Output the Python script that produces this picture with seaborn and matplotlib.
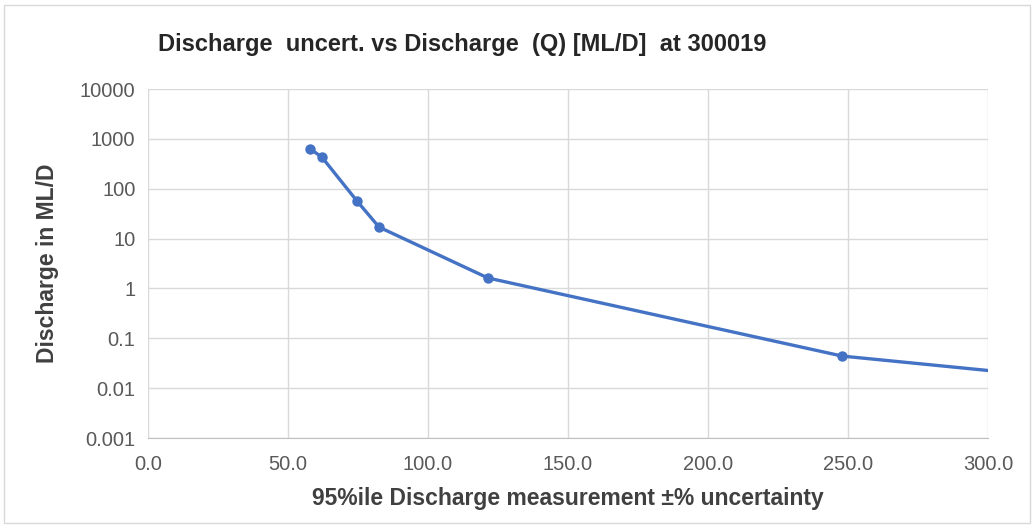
import numpy as np
import pandas as pd
import matplotlib
matplotlib.use('Agg')
import matplotlib.pyplot as plt
import matplotlib.ticker as mticker
import seaborn as sns

# valores
incerteza = [57.9, 62.1, 74.6, 82.5, 121.4, 247.9, 320.0]
vazao = [630.0, 430.0, 57.0, 17.0, 1.62, 0.044, 0.0175]

df = pd.DataFrame({'incerteza': incerteza, 'vazao': vazao})

sns.set_style('white')
plt.rcParams['font.family'] = ['Liberation Sans', 'DejaVu Sans']

fig = plt.figure(figsize=(10.34, 5.28), dpi=100)
ax = fig.add_axes([148 / 1034, 1 - 438 / 528, 840 / 1034, 349 / 528])

sns.lineplot(data=df, x='incerteza', y='vazao', ax=ax, color='#4472C4',
             linewidth=2.4, marker='o', markersize=7.5, markeredgewidth=0,
             clip_on=True, zorder=3)

ax.set_yscale('log')
ax.set_xlim(0, 300)
ax.set_ylim(0.001, 10000)
ax.set_xticks(np.arange(0, 301, 50))
ax.xaxis.set_major_formatter(mticker.FormatStrFormatter('%.1f'))
yt = [0.001, 0.01, 0.1, 1, 10, 100, 1000, 10000]
ax.set_yticks(yt)
ax.set_yticklabels(['0.001', '0.01', '0.1', '1', '10', '100', '1000', '10000'])
ax.yaxis.set_minor_locator(mticker.NullLocator())

ax.grid(True, color='#d9d9d9', linewidth=1)
for s in ['top', 'right', 'left']:
    ax.spines[s].set_visible(False)
ax.spines['bottom'].set_color('#bfbfbf')
ax.tick_params(axis='both', length=0, labelsize=14.5, colors='#595959')
ax.tick_params(axis='x', pad=12)
ax.tick_params(axis='y', pad=9)

ax.set_xlabel('95%ile Discharge measurement ±% uncertainty', fontsize=16.5,
              fontweight='bold', color='#404040')
ax.set_ylabel('Discharge in ML/D', fontsize=16.5, fontweight='bold',
              color='#404040')
ax.xaxis.set_label_coords(0.5, -0.14)
ax.yaxis.set_label_coords(-0.106, 0.5)

fig.text(462 / 1034, 1 - 45 / 528, 'Discharge  uncert. vs Discharge  (Q) [ML/D]  at 300019',
         ha='center', va='center', fontsize=17, fontweight='bold', color='#262626')

# moldura do gráfico
fig.patches.append(plt.Rectangle((0.004, 0.01), 0.992, 0.98, transform=fig.transFigure,
                                 fill=False, edgecolor='#d9d9d9', linewidth=1))

fig.savefig('out.png', dpi=100)
